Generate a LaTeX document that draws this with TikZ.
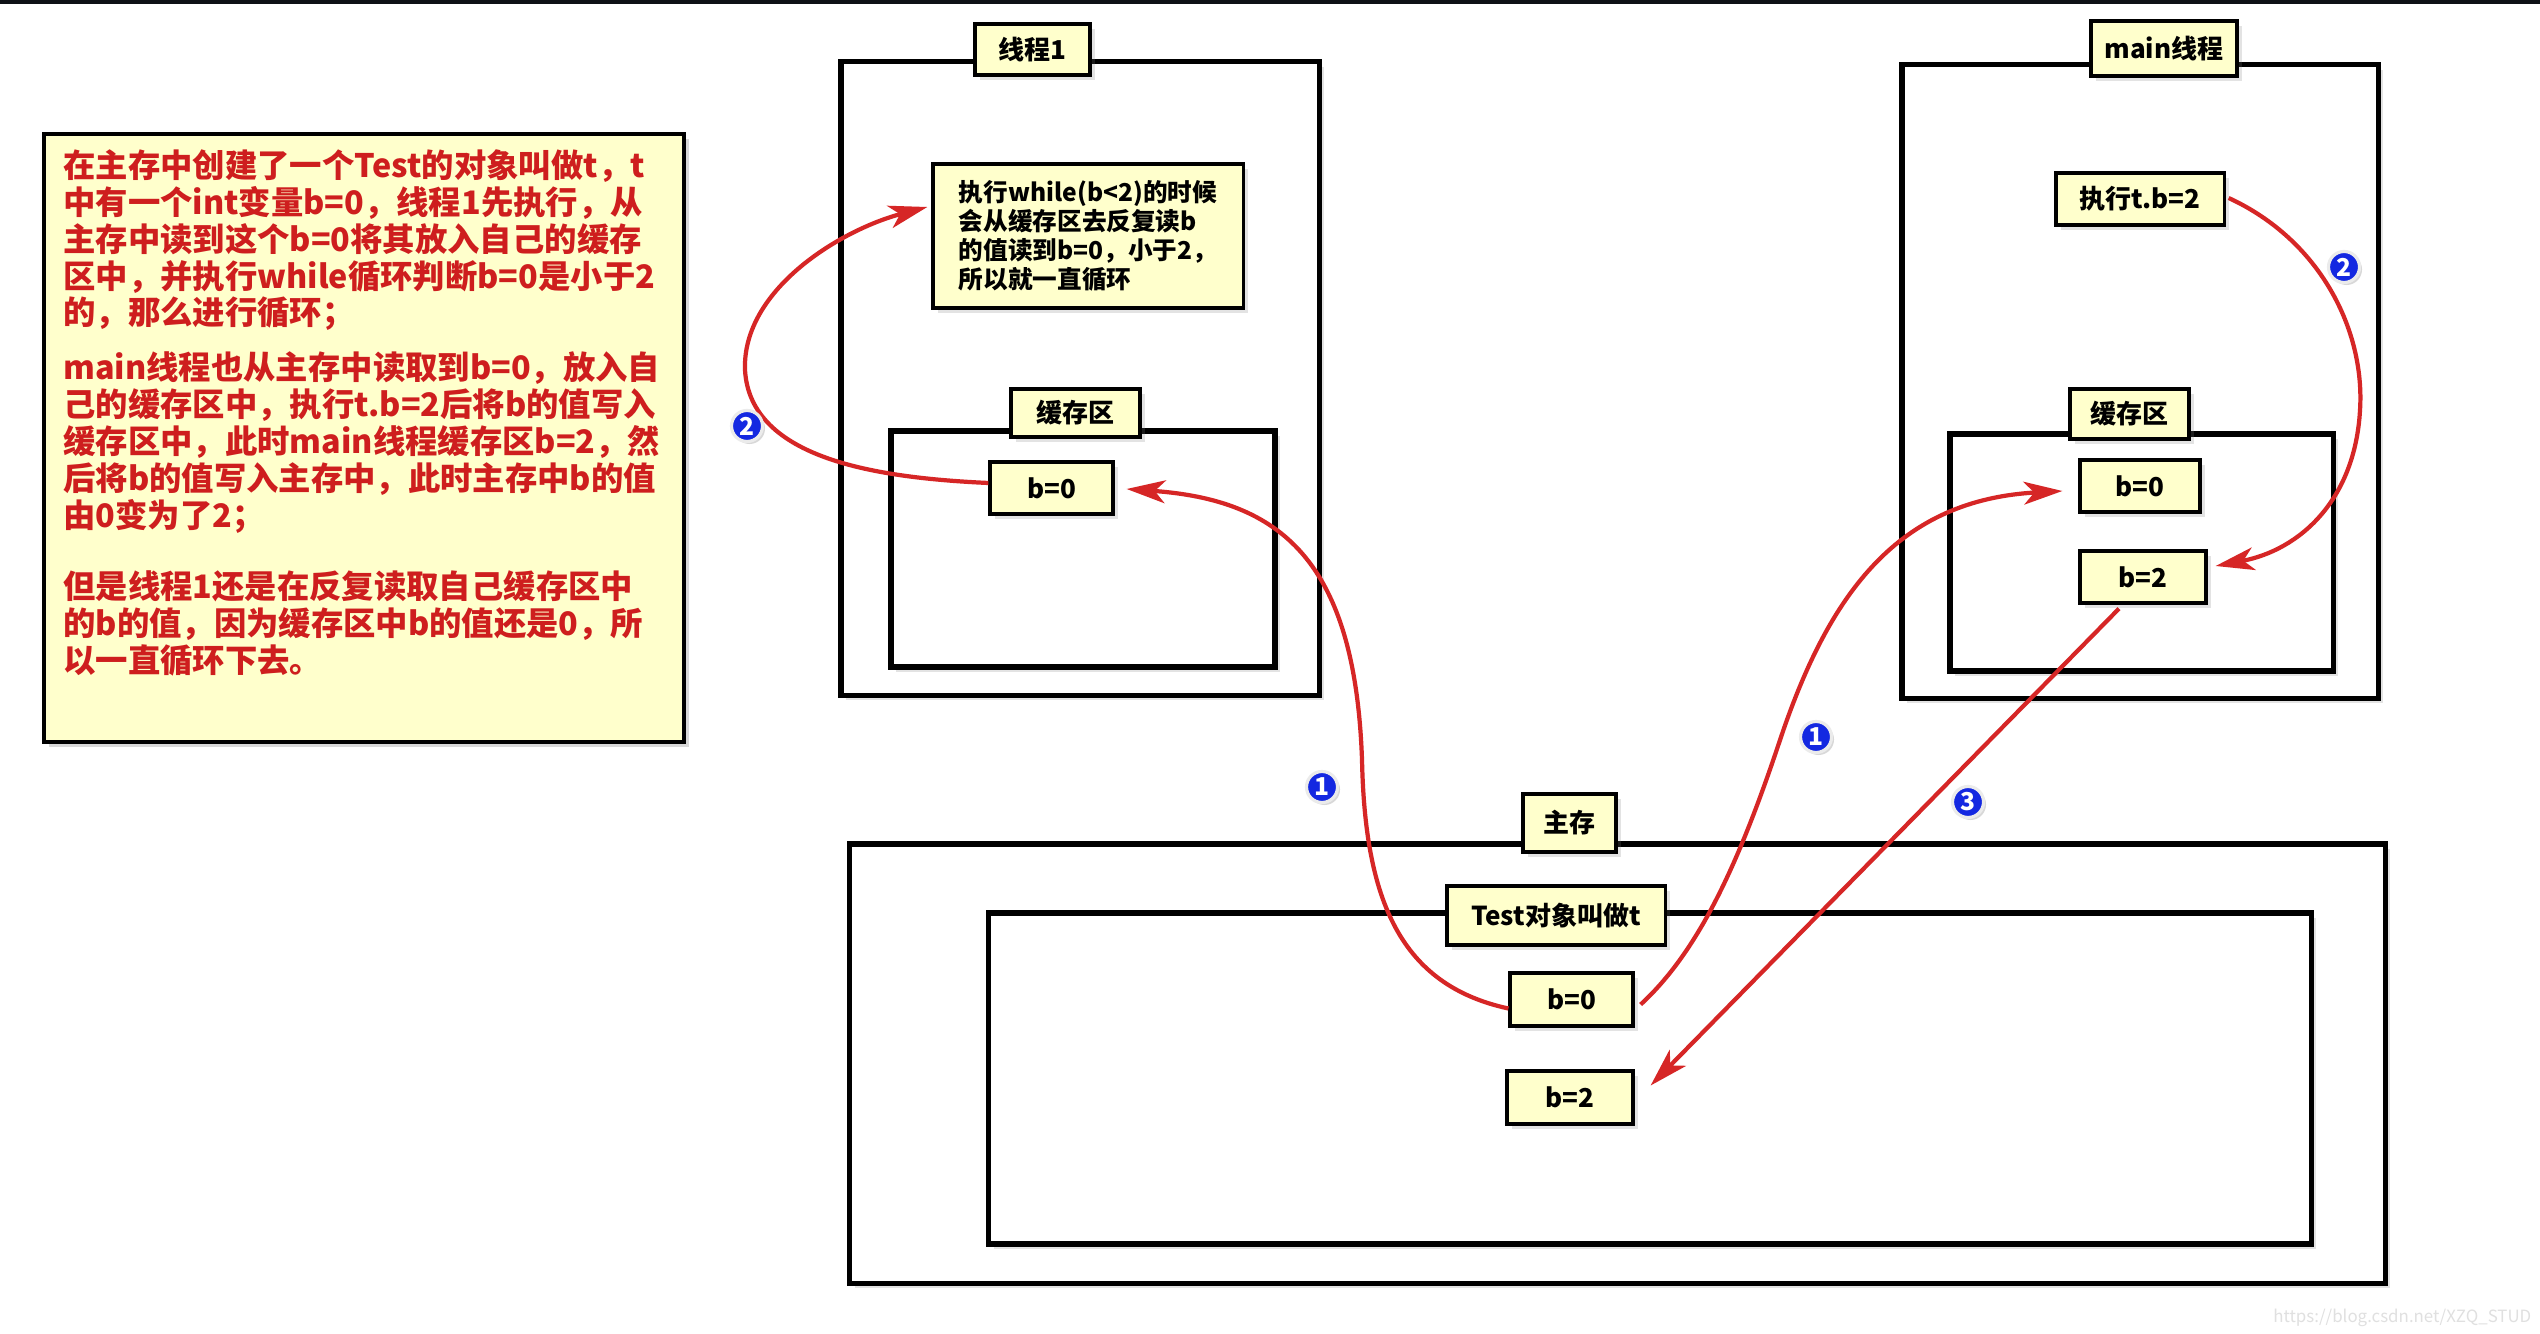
\documentclass[tikz,border=0pt]{standalone}
\usepackage{fontspec}
\setmainfont{Noto Sans CJK SC}
\usetikzlibrary{arrows.meta,shadows,calc}
\definecolor{boxfill}{RGB}{255,255,204}
\definecolor{arrowred}{RGB}{214,38,38}
\definecolor{textred}{RGB}{206,30,30}
\definecolor{badgeblue}{RGB}{20,40,225}
\definecolor{topband}{RGB}{14,17,22}
\begin{document}
\begin{tikzpicture}[x=0.01cm,y=-0.01cm,
  outerbox/.style={draw=black, line width=1.5pt, fill=white, inner sep=0pt,
    drop shadow={shadow xshift=0.5mm, shadow yshift=-0.5mm, opacity=0.22}},
  lbl/.style={draw=black, line width=0.9pt, fill=boxfill, inner sep=0pt,
    font=\fontsize{7.4pt}{8.4pt}\selectfont\bfseries,
    drop shadow={shadow xshift=0.5mm, shadow yshift=-0.5mm, opacity=0.22}},
  badge/.style={circle, fill=badgeblue, draw=black!8, line width=0.9pt, inner sep=0pt,
    minimum size=0.31cm, text=white, font=\fontsize{7pt}{7pt}\selectfont\bfseries,
    drop shadow={shadow xshift=0.25mm, shadow yshift=-0.25mm, opacity=0.3}},
  redarrow/.style={draw=arrowred, line width=1.2pt,
    -{Stealth[length=11pt, width=6.5pt, inset=3pt]}}
]
\useasboundingbox (0,0) rectangle (2540,1334);
\fill[white] (0,0) rectangle (2540,1334);
\fill[topband] (0,0) rectangle (2540,4);

% left explanation box
\node[draw=black, line width=1.2pt, fill=boxfill, inner sep=0pt,
  minimum width=6.4cm, minimum height=6.08cm,
  drop shadow={shadow xshift=0.5mm, shadow yshift=-0.5mm, opacity=0.3}] (expl) at (364,438) {};
\node[anchor=north west, inner sep=0pt, align=left, text=textred,
  font=\fontsize{9.2pt}{10.5pt}\selectfont\bfseries] (expltext) at ($(expl.north west)+(21,17)$) {%
在主存中创建了一个Test的对象叫做t，t\\
中有一个int变量b=0，线程1先执行，从\\
主存中读到这个b=0将其放入自己的缓存\\
区中，并执行while循环判断b=0是小于2\\
的，那么进行循环；\\[5pt]
main线程也从主存中读取到b=0，放入自\\
己的缓存区中，执行t.b=2后将b的值写入\\
缓存区中，此时main线程缓存区b=2，然\\
后将b的值写入主存中，此时主存中b的值\\
由0变为了2；\\[9.7pt]
但是线程1还是在反复读取自己缓存区中\\
的b的值，因为缓存区中b的值还是0，所\\
以一直循环下去。};

% thread 1
\node[outerbox, minimum width=4.78cm, minimum height=6.33cm] (t1) at (1080,378.5) {};
\node[outerbox, minimum width=3.84cm, minimum height=2.36cm] (t1cache) at (1083,549) {};
\node[lbl, minimum width=1.15cm, minimum height=0.51cm] (t1lbl) at (1032.5,49.5) {线程1};
\node[lbl, minimum width=3.10cm, minimum height=1.44cm, align=left,
  font=\fontsize{7pt}{8.3pt}\selectfont\bfseries] (t1note) at (1088,236) {%
执行while(b<2)的时候\\
会从缓存区去反复读b\\
的值读到b=0，小于2，\\
所以就一直循环};
\node[lbl, minimum width=1.29cm, minimum height=0.48cm] (t1cachelbl) at (1075.5,413) {缓存区};
\node[lbl, minimum width=1.23cm, minimum height=0.52cm] (t1b0) at (1051.5,488) {b=0};

% main thread
\node[outerbox, minimum width=4.76cm, minimum height=6.33cm] (mt) at (2140,381.5) {};
\node[outerbox, minimum width=3.83cm, minimum height=2.37cm] (mtcache) at (2141.5,552.5) {};
\node[lbl, minimum width=1.46cm, minimum height=0.55cm] (mtlbl) at (2164,48.5) {main线程};
\node[lbl, minimum width=1.68cm, minimum height=0.52cm] (mtexec) at (2140,199) {执行t.b=2};
\node[lbl, minimum width=1.19cm, minimum height=0.50cm] (mtcachelbl) at (2129.5,414) {缓存区};
\node[lbl, minimum width=1.20cm, minimum height=0.52cm] (mtb0) at (2140,486) {b=0};
\node[lbl, minimum width=1.26cm, minimum height=0.52cm] (mtb2) at (2143,577) {b=2};

% main memory
\node[outerbox, minimum width=15.35cm, minimum height=4.39cm] (mem) at (1617.5,1063.5) {};
\node[outerbox, minimum width=13.22cm, minimum height=3.31cm] (testobj) at (1650,1078.5) {};
\node[lbl, minimum width=0.93cm, minimum height=0.58cm] (memlbl) at (1569.5,823) {主存};
\node[lbl, minimum width=2.18cm, minimum height=0.59cm] (testlbl) at (1556,915.5) {Test对象叫做t};
\node[lbl, minimum width=1.23cm, minimum height=0.53cm] (memb0) at (1571.5,999.5) {b=0};
\node[lbl, minimum width=1.26cm, minimum height=0.53cm] (memb2) at (1570,1097.5) {b=2};

% arrows
\draw[redarrow] ($(memb0.west)+(0,9)$) .. controls (1400,985) and (1365,900) .. (1362,760)
  .. controls (1355,560) and (1280,500) .. ($(t1b0.east)+(12,1)$);
\draw[redarrow] ($(memb0.east)+(6,5)$) .. controls (1700,950) and (1740,860) .. (1780,740)
  .. controls (1830,590) and (1900,500) .. ($(mtb0.west)+(-16,5)$);
\draw[redarrow] ($(t1b0.west)+(0,-5)$) .. controls (880,478) and (750,460) .. (745,370)
  .. controls (742,290) and (840,230) .. ($(t1note.west)+(-4,-29)$);
\draw[redarrow] ($(mtexec.east)+(3,-1)$) .. controls (2320,240) and (2365,330) .. (2360,410)
  .. controls (2355,500) and (2300,550) .. ($(mtb2.east)+(8,-11)$);
\draw[redarrow] ($(mtb2.south)+(-24,4)$) -- ($(memb2.east)+(16,-12)$);

% badges
\node[badge] (b1a) at (1322,787) {1};
\node[badge] (b1b) at (1816,737) {1};
\node[badge] (b2a) at (747,426) {2};
\node[badge] (b2b) at (2344,267) {2};
\node[badge] (b3) at (1968,802) {3};

% watermark
\node[anchor=east, inner sep=0pt, text=black!12, font=\fontsize{4.8pt}{5pt}\selectfont] (wm) at (2532,1318) {https://blog.csdn.net/XZQ\_STUD};
\end{tikzpicture}
\end{document}
